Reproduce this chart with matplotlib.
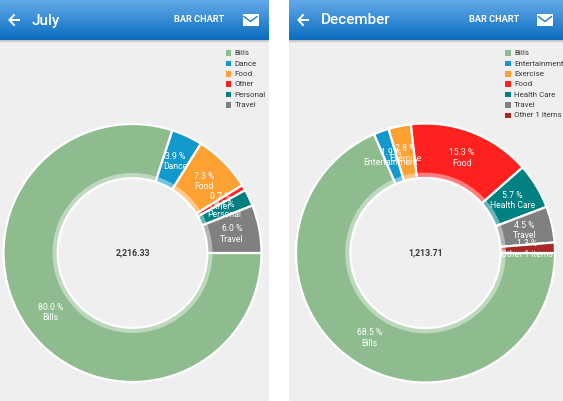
"""
Two phone screenshots of a monthly expense donut chart (July / December).
"""
import matplotlib
matplotlib.use('Agg')
import matplotlib.pyplot as plt
from matplotlib.patches import Rectangle, Wedge
from matplotlib.colors import LinearSegmentedColormap
import numpy as np

plt.rcParams['font.family'] = ['Roboto', 'DejaVu Sans']

W, H = 563, 401

BG = "#efefef"
TEXT_DARK = "#3a3a3a"
GREEN = "#8fbc8f"
BLUE = "#1199cc"
ORANGE = "#ffa033"
RED = "#ff2020"
TEAL = "#008080"
GREY = "#808080"
BROWN = "#a82828"

# July
july_labels = ["Bills", "Dance", "Food", "Other", "Personal", "Travel"]
july_values = [80.0, 3.9, 7.3, 0.7, 2.1, 6.0]
july_colors = [GREEN, BLUE, ORANGE, RED, TEAL, GREY]
july_total = "2,216.33"

# December
dec_labels = ["Bills", "Entertainment", "Exercise", "Food", "Health Care",
              "Travel", "Other 1 items"]
dec_values = [68.5, 1.9, 2.8, 15.3, 5.7, 4.5, 1.3]
dec_colors = [GREEN, BLUE, ORANGE, RED, TEAL, GREY, BROWN]
dec_total = "1,213.71"

HOLE = 0.58
RING = 0.62

fig = plt.figure(figsize=(W / 100, H / 100), dpi=100)
fig.patch.set_facecolor('white')

base = fig.add_axes([0, 0, 1, 1])
base.set_xlim(0, W)
base.set_ylim(H, 0)
base.axis('off')

header_cmap = LinearSegmentedColormap.from_list("hdr", ["#62a9e8", "#0b6dbf"])
shadow_cmap = LinearSegmentedColormap.from_list("shd", ["#b8b8b8", BG])


def draw_panel(x0, x1, title, labels, colors):
    base.add_patch(Rectangle((x0, 0), x1 - x0, H, facecolor=BG, edgecolor='none', zorder=0))
    grad = np.linspace(0, 1, 64)[:, None]
    base.imshow(grad, cmap=header_cmap, extent=[x0, x1, 40, 0], aspect='auto',
                interpolation='bilinear', zorder=1)
    base.imshow(grad, cmap=shadow_cmap, extent=[x0, x1, 43, 40], aspect='auto',
                interpolation='bilinear', zorder=1)

    # back arrow
    ax_ = x0 + 9
    base.plot([ax_, ax_ + 11], [20, 20], color='white', lw=1.4, zorder=3,
              solid_capstyle='butt')
    base.plot([ax_ + 5, ax_ + 0.4, ax_ + 5], [15, 20, 25], color='white', lw=1.4,
              zorder=3, solid_joinstyle='miter')
    base.text(x0 + 32, 20.5, title, color='white', fontsize=11, fontweight='medium',
              ha='left', va='center', zorder=3)

    base.text(x1 - 94, 20, "BAR CHART", color='white', fontsize=6.6, fontweight='bold',
              ha='left', va='center', zorder=3)

    # mail icon
    mx = x1 - 26
    base.add_patch(Rectangle((mx, 14), 16, 12, facecolor='white', edgecolor='none', zorder=3))
    base.plot([mx + 1.5, mx + 8, mx + 14.5], [16.5, 21.5, 16.5], color='#1f7ccb', lw=1.0,
              zorder=4)

    # legend
    lx = x1 - 43 if len(labels) == 6 else x1 - 58
    for i, (lab, col) in enumerate(zip(labels, colors)):
        y = 53.2 + 10.35 * i
        base.add_patch(Rectangle((lx, y - 2.8), 5.6, 5.6, facecolor=col, edgecolor='none',
                                 zorder=3))
        base.text(lx + 9, y, lab, color=TEXT_DARK, fontsize=5.8, ha='left', va='center',
                  zorder=3)


def draw_donut(cx, cy, r, values, labels, colors, total):
    ax = fig.add_axes([(cx - r) / W, (H - cy - r) / H, 2 * r / W, 2 * r / H])
    wedges, _ = ax.pie(values, colors=colors, startangle=0, counterclock=False,
                       radius=1.0,
                       wedgeprops=dict(width=1 - HOLE, edgecolor='white', linewidth=1.6))
    ax.add_patch(Wedge((0, 0), RING, 0, 360, width=RING - HOLE, facecolor='white',
                       alpha=0.42, edgecolor='none', zorder=5))
    ax.set_xlim(-1, 1)
    ax.set_ylim(-1, 1)
    ax.set_aspect('equal')
    ax.axis('off')

    for w, v, lab in zip(wedges, values, labels):
        mid = np.deg2rad((w.theta1 + w.theta2) / 2)
        rr = 0.785
        ax.text(rr * np.cos(mid), rr * np.sin(mid), f"{v:.1f} %\n{lab}",
                color='white', fontsize=6.2, ha='center', va='center',
                linespacing=1.2, zorder=6)

    ax.text(0, 0, total, color=TEXT_DARK, fontsize=6.3, fontweight='bold',
            ha='center', va='center', zorder=6)


draw_panel(0, 268.5, "July", july_labels, july_colors)
draw_panel(289, 563, "December", dec_labels, dec_colors)

draw_donut(132.5, 253, 129, july_values, july_labels, july_colors, july_total)
draw_donut(425.5, 253, 129.5, dec_values, dec_labels, dec_colors, dec_total)

fig.savefig("out.png", dpi=100, facecolor=fig.get_facecolor())
plt.close(fig)
